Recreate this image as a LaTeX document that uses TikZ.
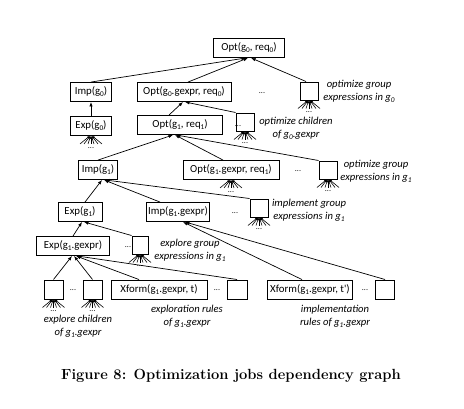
\documentclass[tikz,border=0pt]{standalone}
\usepackage{fontspec}
\newfontfamily\cf{Carlito}
\usetikzlibrary{arrows.meta,calc}
\newcommand\sbs[1]{\raisebox{-0.4ex}{\fontsize{7.3}{7.3}\selectfont #1}}
\newcommand\fanat[2]{%
  \foreach \dx in {-11,-7,-3,0,3,7,11}{\draw[fanl] ([shift={(\dx,8)}]#1.south) -- ([shift={(\dx*0.12,0)}]#1.south);}
  \node[dots] (#2) at ([shift={(0,12)}]#1.south) {...};}
\begin{document}
\begin{tikzpicture}[x=1pt,y=-1pt,
  box/.style={draw,line width=0.9pt,minimum height=19pt,inner sep=0pt,font=\cf\fontsize{10.8}{12}\selectfont},
  sq/.style={draw,line width=1pt,minimum width=18pt,minimum height=18pt,inner sep=0pt},
  arr/.style={-{Latex[length=4.5pt,width=3.4pt]},line width=0.7pt},
  fanl/.style={-{Latex[length=2.6pt,width=2.2pt]},line width=0.6pt},
  lab/.style={font=\cf\itshape\fontsize{10.6}{12.8}\selectfont,align=center,inner sep=0pt},
  dots/.style={font=\cf\fontsize{8}{8}\selectfont,inner sep=0pt}]
\useasboundingbox (0,0) rectangle (464,408);
% level 0
\node[box,minimum width=71pt] (o0) at (249,48) {Opt(g\sbs{0}, req\sbs{0})};
% level 1
\node[box,minimum width=41pt] (i0) at (91,92) {Imp(g\sbs{0})};
\node[box,minimum width=94pt] (og0) at (184,92) {Opt(g\sbs{0}.gexpr, req\sbs{0})};
\node[dots] (d1) at (262,93) {...};
\node[sq] (s0) at (309,91) {};
\node[lab] (l0) at (359,91) {optimize group\\expressions in g\sbs{0}};
% level 2
\node[box,minimum width=41pt] (e0) at (91,126) {Exp(g\sbs{0})};
\node[box,minimum width=85pt] (o1) at (180,125) {Opt(g\sbs{1}, req\sbs{1})};
\node[dots] (d2) at (238,126) {...};
\node[sq] (s1) at (245,122) {};
\node[lab] (l1) at (296,128) {optimize children\\of g\sbs{0}.gexpr};
% level 3
\node[box,minimum width=39pt] (i1) at (98,170) {Imp(g\sbs{1})};
\node[box,minimum width=96pt] (og1) at (231,170) {Opt(g\sbs{1}.gexpr, req\sbs{1})};
\node[dots] (d3) at (298,171) {...};
\node[sq] (s2) at (328,170) {};
\node[lab] (l2) at (376,171) {optimize group\\expressions in g\sbs{1}};
% level 4
\node[box,minimum width=44pt] (e1) at (80,212) {Exp(g\sbs{1})};
\node[box,minimum width=63pt] (ig1) at (178,212) {Imp(g\sbs{1}.gexpr)};
\node[dots] (d4) at (235,213) {...};
\node[sq] (s3) at (259,208) {};
\node[lab] (l3) at (309,210) {implement group\\expressions in g\sbs{1}};
% level 5
\node[box,minimum width=73pt] (eg1) at (73,246) {Exp(g\sbs{1}.gexpr)};
\node[dots] (d5) at (128,247) {...};
\node[sq,minimum width=16pt] (s4) at (140,245) {};
\node[lab] (l4) at (190,250) {explore group\\expressions in g\sbs{1}};
% level 6
\node[sq,minimum width=19pt,minimum height=19pt] (b1) at (53.5,289.5) {};
\node[dots] (d6) at (73,290) {...};
\node[sq,minimum width=19pt,minimum height=19pt] (b2) at (92.5,289.5) {};
\node[box,minimum width=96pt] (xt) at (159,289.5) {Xform(g\sbs{1}.gexpr, t)};
\node[dots] (d7) at (217,290) {...};
\node[sq,minimum width=20pt,minimum height=19pt] (b3) at (237,289.5) {};
\node[box,minimum width=85pt] (xt2) at (310,289.5) {Xform(g\sbs{1}.gexpr, t')};
\node[dots] (d8) at (365,290) {...};
\node[sq,minimum width=19pt,minimum height=19pt] (b4) at (385,289.5) {};
\node[lab] (l5) at (78,326) {explore children\\of g\sbs{1}.gexpr};
\node[lab] (l6) at (187,316) {exploration rules\\of g\sbs{1}.gexpr};
\node[lab] (l7) at (335,316) {implementation\\rules of g\sbs{1}.gexpr};
% caption
\node[font=\bfseries\fontsize{14.7}{17}\selectfont,inner sep=0pt] (cap) at (231,376) {Figure 8: Optimization jobs dependency graph};
% fans
\fanat{s0}{f0}
\fanat{e0}{f1}
\fanat{s1}{f2}
\fanat{og1}{f3}
\fanat{s2}{f4}
\fanat{s3}{f5}
\fanat{s4}{f6}
\fanat{b1}{f7}
\fanat{b2}{f8}
% edges
\draw[arr] (i0.north) -- ([xshift=-3pt]o0.south);
\draw[arr] ([xshift=4pt]og0.north) -- ([xshift=-1pt]o0.south);
\draw[arr] ([xshift=-3pt]s0.north) -- ([xshift=2pt]o0.south);
\draw[arr] (e0) -- (i0);
\draw[arr] ([xshift=-11pt]o1.north) -- ([xshift=-1pt]og0.south);
\draw[arr] (s1.north west) -- ([xshift=1pt]og0.south);
\draw[arr] (i1.north) -- ([xshift=-7pt]o1.south);
\draw[arr] ([xshift=-8pt]og1.north) -- ([xshift=-5pt]o1.south);
\draw[arr] (s2.north west) -- ([xshift=-4pt]o1.south);
\draw[arr] ([xshift=5pt]e1.north) -- ([xshift=4pt]i1.south);
\draw[arr] ([xshift=-18pt]ig1.north) -- ([xshift=6pt]i1.south);
\draw[arr] (s3.north west) -- ([xshift=7pt]i1.south);
\draw[arr] (eg1.north) -- ([xshift=2pt]e1.south);
\draw[arr] (s4.north west) -- ([xshift=4pt]e1.south);
\draw[arr] (b1.north) -- ([xshift=-1pt]eg1.south);
\draw[arr] (b2.north) -- ([xshift=1pt]eg1.south);
\draw[arr] ([xshift=-20pt]xt.north) -- ([xshift=3pt]eg1.south);
\draw[arr] (b3.north) -- ([xshift=4pt]eg1.south);
\draw[arr] ([xshift=-8pt]xt2.north) -- ([xshift=5pt]ig1.south);
\draw[arr] (b4.north) -- ([xshift=7pt]ig1.south);
\end{tikzpicture}
\end{document}
